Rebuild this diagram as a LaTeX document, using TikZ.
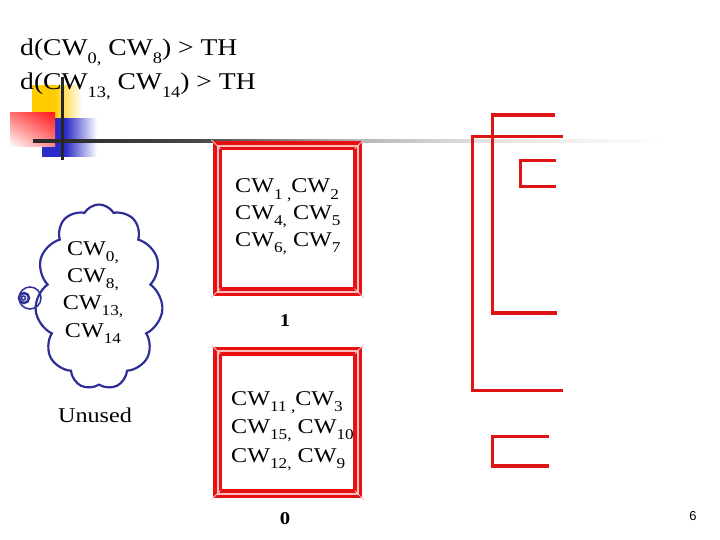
\documentclass[tikz,border=0pt]{standalone}
\usepackage{fontspec}
\setmainfont[FakeStretch=1.15]{Liberation Serif}
\newfontfamily\pgnumfont{Liberation Sans}
\usetikzlibrary{shapes.symbols,calc,shadings}
\definecolor{brred}{HTML}{DD1515}
\definecolor{frred}{HTML}{E81010}
\definecolor{frpink}{HTML}{F6C0C0}
\definecolor{cloudblue}{HTML}{2E2E96}
\definecolor{decoyel}{HTML}{FFCC00}
\definecolor{decoblue}{HTML}{2B2BC8}
\definecolor{decored}{HTML}{FF1A1A}
\pgfdeclarehorizontalshading{linefade}{100bp}{color(0bp)=(black!85); color(25bp)=(black!85); color(38bp)=(black!72); color(50bp)=(black!30); color(60bp)=(black!12); color(75bp)=(white); color(100bp)=(white)}
\pgfdeclarehorizontalshading{yelfade}{100bp}{color(0bp)=(decoyel); color(25bp)=(decoyel); color(47bp)=(decoyel); color(75bp)=(white); color(100bp)=(white)}
\pgfdeclarehorizontalshading{bluefade}{100bp}{color(0bp)=(decoblue); color(25bp)=(decoblue); color(46bp)=(decoblue); color(75bp)=(white); color(100bp)=(white)}
\newcommand{\sbs}[1]{\raisebox{-0.3em}{\fontsize{15}{15}\selectfont #1}}
\newcommand{\tsbs}[1]{\raisebox{-0.3em}{\fontsize{16}{16}\selectfont #1}}
\begin{document}
\begin{tikzpicture}[x=1pt,y=-1pt,
  ttl/.style={inner sep=0,anchor=base west,font=\fontsize{24}{28}\selectfont},
  txt/.style={inner sep=0,anchor=base west,font=\fontsize{21}{25}\selectfont},
  ctxt/.style={inner sep=0,anchor=base,font=\fontsize{21}{25}\selectfont},
  bold/.style={inner sep=0,anchor=base,font=\fontsize{18}{22}\selectfont\bfseries},
  frame/.style={draw=frred,line width=3.5pt,double=frpink,double distance=2pt,inner sep=0},
  bracket/.style={draw=brred,line width=3.5pt,line join=miter},
  bevel/.style={draw=frpink,line width=0.8pt}]
\useasboundingbox (0,0) rectangle (720,540);
% decoration
\shade[shading=yelfade] (32,86) rectangle (82,120);
\shade[shading=bluefade] (42,119) rectangle (97,157);
\shade[upper right=decored,upper left=red!55,lower left=white,lower right=red!45] (10,113) rectangle (55,147);
\shade[shading=linefade] (33,139.5) rectangle (667,142.5);
\fill[black!85] (60.5,77) rectangle (63.5,160);
% titles
\node[ttl] (t1) at (20,56) {d(CW\tsbs{0,} CW\tsbs{8}) > TH};
\node[ttl] (t2) at (20,90) {d(CW\tsbs{13,} CW\tsbs{14}) > TH};
% cloud
\node[cloud,cloud puffs=11,cloud puff arc=120,aspect=0.69,draw=cloudblue,line width=2.2pt,
  minimum width=128,minimum height=185,inner sep=0] (cloud) at (99,297) {};
\draw[cloudblue,line width=1.5pt] (30,298) circle (11);
\draw[cloudblue,line width=2.5pt] (24,298) circle (5);
\draw[cloudblue,line width=1.5pt] (23.5,298) circle (2);
\node[ctxt] (c1) at (93,255) {CW\sbs{0,}};
\node[ctxt] (c2) at (93,282) {CW\sbs{8,}};
\node[ctxt] (c3) at (93,309) {CW\sbs{13,}};
\node[ctxt] (c4) at (93,337) {CW\sbs{14}};
\node[ctxt] (unused) at (95,422) {Unused};
% boxes
\node[frame,minimum width=140,minimum height=145.5] (box1) at (287.5,218.75) {};
\node[frame,minimum width=140,minimum height=142.5] (box2) at (287.5,422.25) {};
\foreach \b in {box1,box2}{
  \draw[bevel] ($(\b.north west)+(-4.5,-4.5)$) -- ($(\b.north west)+(4.5,4.5)$);
  \draw[bevel] ($(\b.north east)+(4.5,-4.5)$) -- ($(\b.north east)+(-4.5,4.5)$);
  \draw[bevel] ($(\b.south west)+(-4.5,4.5)$) -- ($(\b.south west)+(4.5,-4.5)$);
  \draw[bevel] ($(\b.south east)+(4.5,4.5)$) -- ($(\b.south east)+(-4.5,-4.5)$);
}
\node[txt] (b1a) at (235,193) {CW\sbs{1 ,}CW\sbs{2}};
\node[txt] (b1b) at (235,219.5) {CW\sbs{4,} CW\sbs{5}};
\node[txt] (b1c) at (235,246) {CW\sbs{6,} CW\sbs{7}};
\node[bold] (one) at (285,326.5) {1};
\node[txt] (b2a) at (231,405) {CW\sbs{11 ,}CW\sbs{3}};
\node[txt] (b2b) at (231,433) {CW\sbs{15,} CW\sbs{10}};
\node[txt] (b2c) at (231,462) {CW\sbs{12,} CW\sbs{9}};
\node[bold] (zero) at (285,524) {0};
% brackets
\draw[bracket] (555,115) -- (492.7,115) -- (492.7,313) -- (556.7,313);
\draw[bracket] (562.7,136.7) -- (472.7,136.7) -- (472.7,390.7) -- (562.7,390.7);
\draw[bracket] (556,160.7) -- (520.7,160.7) -- (520.7,186.7) -- (556,186.7);
\draw[bracket] (549.3,436.7) -- (492.7,436.7) -- (492.7,466) -- (549.3,466);
% page number
\node[inner sep=0,anchor=base,font=\pgnumfont\fontsize{13}{15}\selectfont] (pg) at (693,520) {6};
\end{tikzpicture}
\end{document}
